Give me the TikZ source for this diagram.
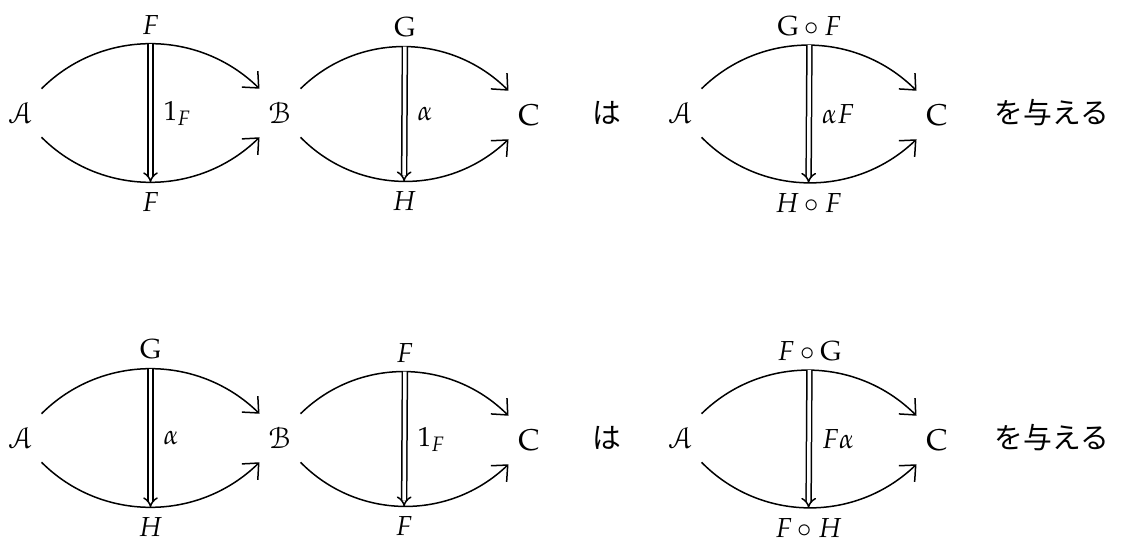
\documentclass[tikz,border=0pt]{standalone}
\usepackage{mathpazo}
\usepackage{eucal}
\usepackage{fontspec}
\newfontfamily\jp{Noto Sans CJK JP}
\usetikzlibrary{arrows.meta, bending, calc}

\tikzset{
  obj/.style={inner sep=0pt, minimum width=16pt, minimum height=19pt, font=\fontsize{12}{14}\selectfont},
  fun/.style={semithick, -{Straight Barb[length=5pt, width=9pt]}},
  nat/.style={semithick, double, double distance=1.4pt, -{Implies[scale=1.2]}},
  lab/.style={inner sep=3pt, font=\fontsize{11}{13}\selectfont},
  jtext/.style={font=\fontsize{11.5}{13}\jp}
}

\begin{document}
\begin{tikzpicture}[x=0.4pt, y=-0.4pt]
  \useasboundingbox (0,0) rectangle (1124,558);

  % Objets de la premiere ligne
  \node[obj] (A1) at (21,113) {$\mathcal{A}$};
  \node[obj] (B1) at (280,113) {$\mathcal{B}$};
  \node[obj] (C1) at (529,115) {$\mathrm{C}$};
  \node[jtext] (wa1) at (607,113) {は};
  \node[obj] (A1r) at (681,113) {$\mathcal{A}$};
  \node[obj] (C1r) at (937,115) {$\mathrm{C}$};
  \node[jtext] (give1) at (1052,113) {を与える};

  % Objets de la deuxieme ligne
  \node[obj] (A2) at (21,438) {$\mathcal{A}$};
  \node[obj] (B2) at (280,438) {$\mathcal{B}$};
  \node[obj] (C2) at (529,440) {$\mathrm{C}$};
  \node[jtext] (wa2) at (607,438) {は};
  \node[obj] (A2r) at (681,438) {$\mathcal{A}$};
  \node[obj] (C2r) at (937,440) {$\mathrm{C}$};
  \node[jtext] (give2) at (1052,438) {を与える};

  % 2-cellules : source/but/haut/bas/transformation
  \foreach \s/\t/\u/\d/\nt [count=\i] in {%
      A1/B1/F/F/1_F,
      B1/C1/\mathrm{G}/H/\alpha,
      A1r/C1r/\mathrm{G}\circ F/H\circ F/\alpha F,
      A2/B2/\mathrm{G}/H/\alpha,
      B2/C2/F/F/1_F,
      A2r/C2r/F\circ \mathrm{G}/F\circ H/F\alpha} {
    \draw[fun] (\s.north east) to[bend left=45] coordinate[midway] (up\i) (\t.north west);
    \draw[fun] (\s.south east) to[bend right=45] coordinate[midway] (dn\i) (\t.south west);
    \draw[nat] (up\i) -- (dn\i);
    \node[lab, above=0.5pt] (lu\i) at (up\i) {$\u$};
    \node[lab, below=1pt] (ld\i) at (dn\i) {$\d$};
    \node[lab, right=2pt] (lt\i) at ($(up\i)!0.5!(dn\i)$) {$\nt$};
  }

\end{tikzpicture}
\end{document}
